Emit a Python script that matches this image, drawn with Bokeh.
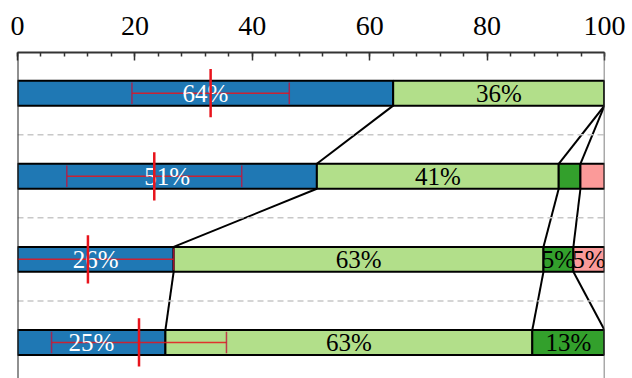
import numpy as np
from bokeh.plotting import figure
from bokeh.models import Range1d, SingleIntervalTicker, Span, ColumnDataSource
from bokeh.core.properties import value
from bokeh.embed import file_html
from bokeh.resources import INLINE

# ---- data ----
rows = [3, 2, 1, 0]                      # top to bottom
blue = [64.0, 51.0, 26.6, 25.2]
light = [36.0, 41.2, 63.0, 62.5]
dark = [0.0, 3.7, 5.1, 12.3]
pink = [0.0, 4.1, 5.3, 0.0]
label_blue = ["64%", "51%", "26%", "25%"]
label_light = ["36%", "41%", "63%", "63%"]
label_dark = ["", "", "5%", "13%"]
label_pink = ["", "", "5%", ""]
err_mean = [32.9, 23.3, 12.0, 20.7]
err_sd = [13.4, 14.9, 14.6, 14.9]
xticks_interval = 20

colors = ["#1f78b4", "#b2df8a", "#33a02c", "#fb9a99"]
text_colors = ["white", "black", "black", "black"]
FONT = "Liberation Serif"
H = 0.30

p = figure(width=632, height=378, output_backend="svg", toolbar_location=None,
           x_axis_location="above", y_axis_location=None,
           x_range=Range1d(0, 100), y_range=Range1d(-0.434, 3.49),
           min_border_left=17, min_border_right=28, min_border_top=52, min_border_bottom=0)
p.outline_line_color = None
p.xgrid.visible = False
p.ygrid.visible = False

ax = p.xaxis[0]
ax.ticker = SingleIntervalTicker(interval=xticks_interval, num_minor_ticks=5)
ax.major_tick_in = 8
ax.major_tick_out = 0
ax.minor_tick_in = 4
ax.minor_tick_out = 0
ax.major_label_text_font = FONT
ax.major_label_text_font_style = "normal"
ax.major_label_text_font_size = "28px"
ax.major_label_text_color = "black"
ax.major_label_standoff = 18
ax.axis_line_color = "#333333"
ax.axis_line_width = 2
ax.major_tick_line_color = "#333333"
ax.major_tick_line_width = 1.5
ax.minor_tick_line_color = "#333333"
ax.minor_tick_line_width = 1.5

# dashed separators
for yy in [2.5, 1.5, 0.5]:
    p.add_layout(Span(location=yy, dimension="width", line_color="#c8c8c8",
                      line_dash="6 4", line_width=1.5))

series = [blue, light, dark, pink]
labels = [label_blue, label_light, label_dark, label_pink]
cum = np.cumsum(np.array(series), axis=0)   # shape (4 series, 4 rows)
lefts = np.vstack([np.zeros(len(rows)), cum[:-1]])

for k in range(4):
    src = ColumnDataSource(dict(y=rows, left=lefts[k], right=cum[k]))
    p.hbar(y="y", left="left", right="right", height=H, source=src,
           fill_color=colors[k], line_color="black", line_width=2)

# connecting lines between cumulative boundaries of consecutive rows
x0s, x1s, y0s, y1s = [], [], [], []
for r in range(len(rows) - 1):
    for k in range(3):
        x0s.append(min(cum[k][r], 100.0))
        x1s.append(min(cum[k][r + 1], 100.0))
        y0s.append(rows[r] - H / 2)
        y1s.append(rows[r + 1] + H / 2)
p.segment(x0=x0s, x1=x1s, y0=y0s, y1=y1s, line_color="black", line_width=2)

# error whiskers
m = np.array(err_mean)
s = np.array(err_sd)
ry = np.array(rows, dtype=float)
p.segment(x0=m - s, x1=m + s, y0=ry, y1=ry, line_color="#e8141c", line_alpha=0.85, line_width=1.5)
p.segment(x0=list(m - s) + list(m + s), x1=list(m - s) + list(m + s),
          y0=list(ry - 0.13) * 2, y1=list(ry + 0.13) * 2,
          line_color="#c0143c", line_alpha=0.8, line_width=1.5)

# labels
for k in range(4):
    mids = (lefts[k] + cum[k]) / 2
    src = ColumnDataSource(dict(x=mids, y=rows, t=labels[k]))
    p.text(x="x", y="y", text="t", source=src, text_align="center", text_baseline="middle",
           text_font=value(FONT), text_font_size="25px", text_color=text_colors[k])

# mean markers
p.segment(x0=m, x1=m, y0=ry - 0.29, y1=ry + 0.29, line_color="#e8141c", line_width=2.5)

# side spines
p.add_layout(Span(location=0, dimension="height", line_color="#222222", line_width=2))
p.add_layout(Span(location=100, dimension="height", line_color="#555555", line_width=1.5))

open("out.html", "w").write(file_html(p, INLINE))
